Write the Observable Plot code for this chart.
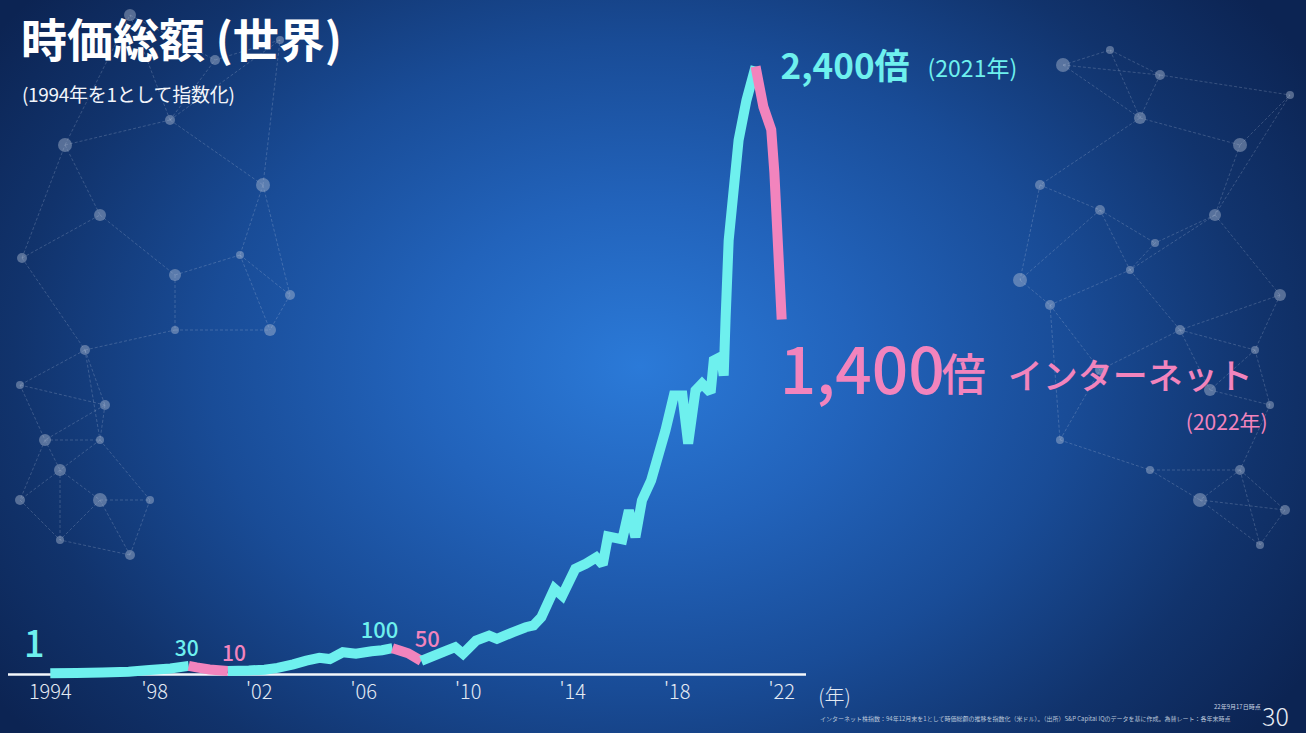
<!DOCTYPE html>
<html lang="ja">
<head>
<meta charset="utf-8">
<script src="https://cdn.jsdelivr.net/npm/d3@7"></script>
<script src="https://cdn.jsdelivr.net/npm/@observablehq/plot@0.6"></script>
<style>
  html, body { margin: 0; padding: 0; background: #0c2250; }
  #slide {
    position: relative; width: 1306px; height: 733px; overflow: hidden;
    background: radial-gradient(ellipse 60% 80% at 49% 50%, #2b7ad8 0%, #2263bb 28%, #194c97 55%, #11336c 80%, #0c2453 100%);
    font-family: "Noto Sans CJK JP", "Noto Sans", sans-serif;
  }
  #deco, #chart { position: absolute; left: 0; top: 0; }
  #title { position: absolute; left: 21px; top: 10px; color: #fff; font-size: 46px; font-weight: 700; line-height: 1.2; }
  #subtitle { position: absolute; left: 22px; top: 83px; color: #f2f5fa; font-size: 19px; font-weight: 400; line-height: 1.2; letter-spacing: -0.3px; }
  #asof { position: absolute; left: 1214px; top: 702px; color: #c9d3e2; font-size: 6px; white-space: nowrap; }
  #page { position: absolute; left: 1262px; top: 700px; color: #e8edf5; font-size: 25px; font-weight: 300; line-height: 1.2; }
  #source { position: absolute; left: 820px; top: 714px; color: #b9c5d8; font-size: 6px; white-space: nowrap; }
  #chart svg text.tick { letter-spacing: 1px; }
</style>
</head>
<body>
<div id="slide">
  <div id="deco"></div>
  <div id="chart"></div>
  <div id="title">時価総額 (世界)</div>
  <div id="subtitle">(1994年を1として指数化)</div>
  <div id="asof">22年9月17日時点</div>
  <div id="page">30</div>
  <div id="source">インターネット株指数：94年12月末を1として時価総額の推移を指数化（米ドル）。（出所）S&amp;P Capital IQのデータを基に作成。為替レート：各年末時点</div>
</div>
<script>
// Internet-sector market cap index, 1994 = 1 (fractional years)
const years = [
  1994.0, 1995.0, 1996.0, 1997.0, 1997.8, 1998.6, 1999.3, 1999.6, 2000.1, 2000.8,
  2001.6, 2002.2, 2002.7, 2003.3, 2003.8, 2004.3, 2004.7, 2005.2, 2005.7, 2006.3,
  2006.7, 2007.1, 2007.4, 2007.7, 2008.2, 2009.0, 2009.5, 2009.8, 2010.3, 2010.8,
  2011.1, 2011.7, 2012.2, 2012.5, 2012.8, 2013.3, 2013.6, 2014.1, 2014.5, 2014.9,
  2015.15, 2015.35, 2015.9, 2016.15, 2016.4, 2016.65, 2017.0, 2017.55, 2017.87, 2018.2,
  2018.42, 2018.7, 2018.95, 2019.28, 2019.4, 2019.68, 2019.78, 2019.85, 2019.97, 2020.35,
  2020.65, 2021.0, 2021.3, 2021.6, 2021.72, 2022.0
];
const index = [
  1, 2, 4, 7, 14, 20, 30, 24, 16, 10,
  12, 15, 22, 36, 51, 62, 57, 84, 78, 88,
  92, 100, 90, 80, 50, 84, 104, 78, 130, 150,
  137, 163, 183, 190, 223, 335, 308, 414, 434, 459,
  431, 542, 530, 645, 539, 684, 763, 961, 1099, 1099,
  909, 1119, 1146, 1111, 1238, 1253, 1178, 1396, 1712, 2108,
  2266, 2400, 2240, 2150, 1980, 1400
];
// Market downturns drawn in pink: [start, end]
const downturns = [[1999.3, 2000.8], [2007.1, 2008.2], [2021.0, 2022.0]];
// Axis ticks
const tickYears = [1994, 1998, 2002, 2006, 2010, 2014, 2018, 2022];
const tickLabels = ["1994", "'98", "'02", "'06", "'10", "'14", "'18", "'22"];

const CYAN = "#6ef0ee";
const PINK = "#f284bd";
const W = 1306, H = 733;

// Split the series into rising / falling runs sharing their boundary points
const pts = years.map((year, i) => ({year, value: index[i]}));
const isDown = (a, b) => downturns.some(([s, e]) => a >= s - 1e-9 && b <= e + 1e-9);
const rows = [];
let seg = -1, prev = null;
for (let i = 0; i < pts.length - 1; i++) {
  const down = isDown(pts[i].year, pts[i + 1].year);
  if (down !== prev) { seg++; prev = down; rows.push({...pts[i], seg, down}); }
  rows.push({...pts[i + 1], seg, down});
}

const at = yr => pts[years.indexOf(yr)];
const fmt = d3.format(",");
const FONT = "'Noto Sans CJK JP', 'Noto Sans', sans-serif";

const valueLabel = (yr, color, dx, dy, size) =>
  Plot.text([at(yr)], {x: "year", y: "value", text: d => fmt(d.value), fill: color,
    dx, dy, fontSize: size, fontWeight: 500, textAnchor: "middle", lineAnchor: "bottom", fontFamily: FONT});

const chart = Plot.plot({
  width: W, height: H,
  marginLeft: 8, marginRight: 500, marginTop: 66, marginBottom: 60,
  x: {domain: [1992.4, 2022.95], axis: null},
  y: {domain: [0, 2400], axis: null},
  color: {type: "identity"},
  style: {background: "transparent", fontFamily: FONT, overflow: "visible"},
  marks: [
    Plot.ruleY([0], {stroke: "#f4f8fc", strokeWidth: 2.5, dy: 1}),
    Plot.axisX({ticks: tickYears, tickFormat: d => tickLabels[tickYears.indexOf(d)], label: null,
      tickSize: 0, tickPadding: 11, fontSize: 20, fill: "#e4eaf3", fontWeight: 300, fontFamily: FONT,
      className: "tick"}),
    Plot.text([at(2022)], {x: () => 2022.95, y: () => 0, text: () => "(年)", dx: 28, dy: 30,
      fill: "#e4eaf3", fontSize: 20, fontWeight: 300, textAnchor: "middle", lineAnchor: "bottom"}),
    Plot.line(rows, {x: "year", y: "value", z: "seg", stroke: d => d.down ? PINK : CYAN,
      strokeWidth: 10, strokeLinejoin: "miter", strokeLinecap: "butt", strokeMiterlimit: 2}),
    // value callouts
    Plot.text([at(1994)], {x: "year", y: "value", text: d => fmt(d.value), fill: CYAN,
      dx: -16, dy: -16, fontSize: 36, fontWeight: 500, textAnchor: "middle", lineAnchor: "bottom"}),
    valueLabel(1999.3, CYAN, -2, -10, 21),
    valueLabel(2000.8, PINK, 6, -10, 21),
    valueLabel(2007.1, CYAN, -13, -10, 22),
    valueLabel(2008.2, PINK, 6, -14, 22),
    // 2021 peak
    Plot.text([at(2021.0)], {x: "year", y: "value", text: d => fmt(d.value) + "倍", fill: CYAN,
      dx: 25, dy: 12, fontSize: 35, fontWeight: 700, textAnchor: "start", lineAnchor: "bottom"}),
    Plot.text([at(2021.0)], {x: "year", y: "value", text: d => `(${Math.floor(d.year)}年)`, fill: CYAN,
      dx: 172, dy: 10, fontSize: 23, fontWeight: 400, textAnchor: "start", lineAnchor: "bottom"}),
    // 2022 close
    Plot.text([at(2022.0)], {x: "year", y: "value", text: d => fmt(d.value), fill: PINK,
      dx: -2, dy: 75, fontSize: 64, fontWeight: 500, textAnchor: "start", lineAnchor: "bottom"}),
    Plot.text([at(2022.0)], {x: "year", y: "value", text: () => "倍", fill: PINK,
      dx: 160, dy: 72, fontSize: 44, fontWeight: 500, textAnchor: "start", lineAnchor: "bottom"}),
    Plot.text([at(2022.0)], {x: "year", y: "value", text: () => "インターネット", fill: PINK,
      dx: 226, dy: 70, fontSize: 35, fontWeight: 500, textAnchor: "start", lineAnchor: "bottom"}),
    Plot.text([at(2022.0)], {x: "year", y: "value", text: d => `(${Math.floor(d.year)}年)`, fill: PINK,
      dx: 486, dy: 111, fontSize: 21, fontWeight: 400, textAnchor: "end", lineAnchor: "bottom"})
  ]
});
document.getElementById("chart").append(chart);

// Background network ornament: nodes linked to their nearest neighbours
const nodes = [
  [22,258,5],[65,145,7],[100,215,6],[170,120,5],[130,15,6],[263,185,7],[240,255,4],[175,275,6],
  [290,295,5],[85,350,5],[20,385,4],[105,405,5],[45,440,6],[100,440,4],[60,470,6],[20,500,5],
  [100,500,7],[150,500,4],[130,555,5],[60,540,4],[280,40,4],[215,60,5],[175,330,4],[270,330,6],
  [1063,65,7],[1110,50,4],[1160,75,5],[1140,118,6],[1240,145,7],[1290,95,4],[1040,185,5],[1100,210,5],
  [1215,215,6],[1155,243,4],[1020,280,7],[1050,305,5],[1130,270,4],[1280,295,6],[1180,330,5],[1255,350,4],
  [1210,390,6],[1270,405,4],[1060,440,4],[1240,470,5],[1200,500,7],[1285,510,5],[1260,545,4],[1150,470,4],[1100,370,5]
];
const deco = d3.create("svg").attr("width", W).attr("height", H);
const edges = new Set();
nodes.forEach((a, i) => {
  nodes.map((b, j) => [j, Math.hypot(a[0] - b[0], a[1] - b[1])])
    .filter(([j, d]) => j !== i && d < 160)
    .sort((p, q) => p[1] - q[1]).slice(0, 3)
    .forEach(([j]) => edges.add(i < j ? `${i}-${j}` : `${j}-${i}`));
});
for (const e of edges) {
  const [i, j] = e.split("-").map(Number);
  deco.append("line").attr("x1", nodes[i][0]).attr("y1", nodes[i][1]).attr("x2", nodes[j][0]).attr("y2", nodes[j][1])
    .attr("stroke", "rgba(205,215,232,0.28)").attr("stroke-width", 0.8).attr("stroke-dasharray", "3 2");
}
deco.selectAll("circle").data(nodes).join("circle")
  .attr("cx", d => d[0]).attr("cy", d => d[1]).attr("r", d => d[2])
  .attr("fill", "rgba(185,198,218,0.42)");
document.getElementById("deco").append(deco.node());
</script>
</body>
</html>
